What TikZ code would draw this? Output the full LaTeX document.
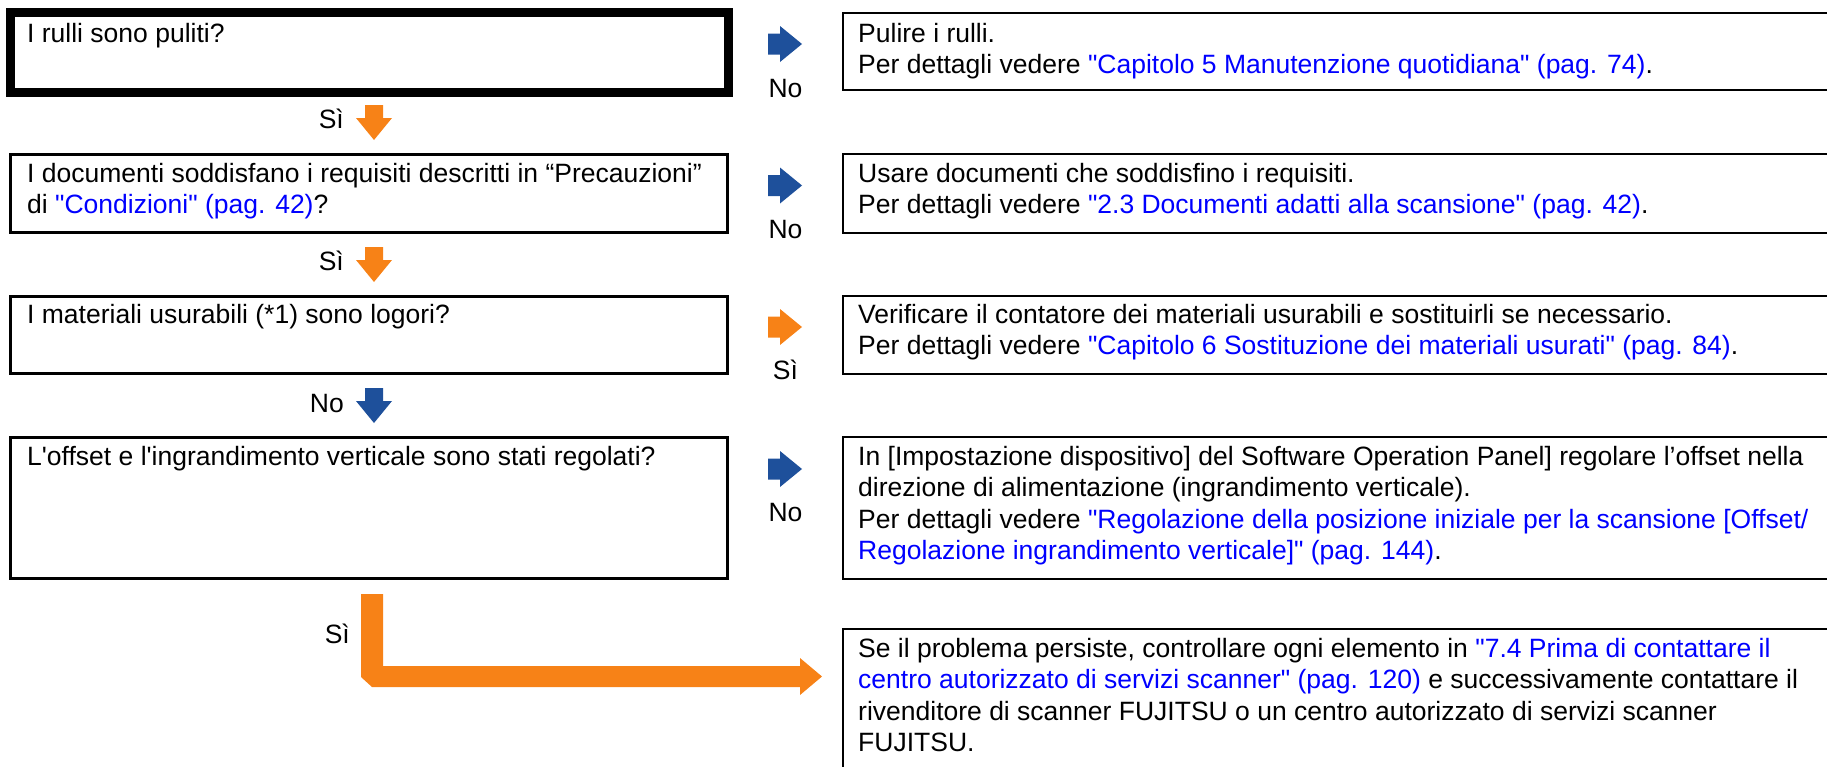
\documentclass[tikz,border=0pt]{standalone}
\usepackage{fontspec}
\setmainfont{Liberation Sans}[Ligatures=TeXOff]
\definecolor{arrblue}{RGB}{30,80,155}
\definecolor{arrorange}{RGB}{247,130,23}
\definecolor{linkblue}{RGB}{0,0,255}
\newcommand\lnk[1]{\textcolor{linkblue}{#1}}
% right-pointing block arrow: left x, centre y, colour
\newcommand\rblock[3]{\fill[#3] (#1,#2-10.5) -- (#1+12,#2-10.5) -- (#1+12,#2-18) -- (#1+34,#2) -- (#1+12,#2+18) -- (#1+12,#2+10.5) -- (#1,#2+10.5) -- cycle;}
% down-pointing block arrow: centre x, top y, colour
\newcommand\dblock[3]{\fill[#3] (#1-9,#2) -- (#1+9,#2) -- (#1+9,#2+13) -- (#1+18,#2+13) -- (#1,#2+35) -- (#1-18,#2+13) -- (#1-9,#2+13) -- cycle;}
\begin{document}
\begin{tikzpicture}[x=1pt,y=-1pt,
  txt/.style={anchor=base west, inner sep=0pt, align=left, font=\fontsize{26.5}{31.5}\selectfont},
  lbl/.style={inner sep=0pt, font=\fontsize{26.5}{31.5}\selectfont},
  qbox/.style={draw=black, line width=2.6pt, rectangle, anchor=north west, inner sep=0pt, outer sep=0pt},
  abox/.style={draw=black, line width=2pt, rectangle, anchor=north west, inner sep=0pt, outer sep=0pt}]
\useasboundingbox (0,0) rectangle (1827,766);
\clip (0,0) rectangle (1827,766);

% question boxes
\node[qbox, line width=9pt, minimum width=718pt, minimum height=80pt] (b1) at (10.5,12.5) {};
\node[qbox, minimum width=717.4pt, minimum height=78.4pt] (b2) at (10.3,154.3) {};
\node[qbox, minimum width=717.4pt, minimum height=77.4pt] (b3) at (10.3,296.3) {};
\node[qbox, minimum width=717.4pt, minimum height=141.4pt] (b4) at (10.3,437.3) {};

% answer boxes
\node[abox, minimum width=1017pt, minimum height=77pt] (r1) at (843,13) {};
\node[abox, minimum width=1017pt, minimum height=79pt] (r2) at (843,154) {};
\node[abox, minimum width=1017pt, minimum height=78pt] (r3) at (843,296) {};
\node[abox, minimum width=1017pt, minimum height=142pt] (r4) at (843,437) {};
\node[abox, minimum width=1017pt, minimum height=171pt] (r5) at (843,629) {};

% question texts (anchor = baseline of the last line)
\node[txt] (t1) at (27,42) {I rulli sono puliti?};
\node[txt] (t2) at (27,213.5) {I documenti soddisfano i requisiti descritti in “Precauzioni”\\di \lnk{"Condizioni" (pag. 42)}?};
\node[txt] (t3) at (27,323) {I materiali usurabili (*1) sono logori?};
\node[txt] (t4) at (27,465) {L'offset e l'ingrandimento verticale sono stati regolati?};

% answer texts (anchor = baseline of the last line)
\node[txt] (s1) at (858,73.5) {Pulire i rulli.\\Per dettagli vedere \lnk{"Capitolo 5 Manutenzione quotidiana" (pag. 74)}.};
\node[txt] (s2) at (858,213.5) {Usare documenti che soddisfino i requisiti.\\Per dettagli vedere \lnk{"2.3 Documenti adatti alla scansione" (pag. 42)}.};
\node[txt] (s3) at (858,354.5) {Verificare il contatore dei materiali usurabili e sostituirli se necessario.\\Per dettagli vedere \lnk{"Capitolo 6 Sostituzione dei materiali usurati" (pag. 84)}.};
\node[txt] (s4) at (858,559.5) {In [Impostazione dispositivo] del Software Operation Panel] regolare l’offset nella\\direzione di alimentazione (ingrandimento verticale).\\Per dettagli vedere \lnk{"Regolazione della posizione iniziale per la scansione [Offset/}\\\lnk{Regolazione ingrandimento verticale]" (pag. 144)}.};
\node[txt] (s5) at (858,751.5) {Se il problema persiste, controllare ogni elemento in \lnk{"7.4 Prima di contattare il}\\\lnk{centro autorizzato di servizi scanner" (pag. 120)} e successivamente contattare il\\rivenditore di scanner FUJITSU o un centro autorizzato di servizi scanner\\FUJITSU.};

% right block arrows and labels
\rblock{768}{44}{arrblue}
\node[lbl, anchor=base] (n1) at (785.5,97) {No};
\rblock{768}{185.5}{arrblue}
\node[lbl, anchor=base] (n2) at (785.5,238) {No};
\rblock{768}{327}{arrorange}
\node[lbl, anchor=base] (n3) at (785.5,379) {Sì};
\rblock{768}{469}{arrblue}
\node[lbl, anchor=base] (n4) at (785.5,521) {No};

% down block arrows and labels
\dblock{374}{105}{arrorange}
\node[lbl, anchor=base east] (d1) at (344,128) {Sì};
\dblock{374}{247}{arrorange}
\node[lbl, anchor=base east] (d2) at (344,270) {Sì};
\dblock{374}{388}{arrblue}
\node[lbl, anchor=base east] (d3) at (344,412) {No};

% L-shaped arrow from the last question to the final answer
\fill[arrorange] (361,594) -- (383,594) -- (383,666) -- (800,666) -- (800,658) -- (822,676.5) -- (800,695) -- (800,687) -- (372,687) -- (361,677) -- cycle;
\node[lbl, anchor=base east] (d4) at (350,643) {Sì};
\end{tikzpicture}
\end{document}
